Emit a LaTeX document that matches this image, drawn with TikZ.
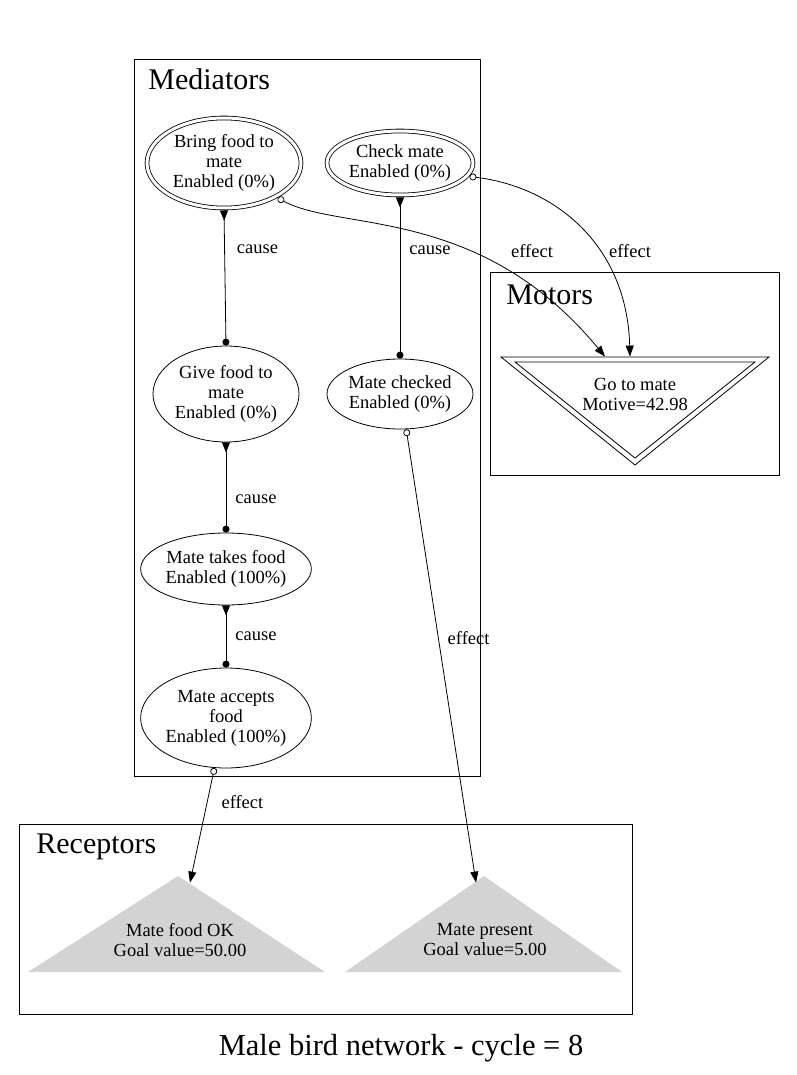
\documentclass[tikz,border=0pt]{standalone}
\usepackage{fontspec}
\setmainfont{Liberation Serif}
\usepackage{xcolor}
\usepackage{tikz}
\usetikzlibrary{shapes.geometric,arrows.meta,positioning,calc}
\definecolor{recgray}{HTML}{D3D3D3}

\begin{document}
\begin{tikzpicture}[
  x=1pt, y=-1pt,
  line width=0.8pt,
  txt/.style={font=\fontsize{18.5}{20}\selectfont, align=center},
  mediator/.style={ellipse, draw, txt, inner sep=0pt},
  dblnode/.style={mediator, double, double distance=3pt, outer sep=2.5pt},
  cluster/.style={draw, line width=0.8pt},
  clabel/.style={anchor=base west, font=\fontsize{30}{32}\selectfont, inner sep=0pt},
  elabel/.style={font=\fontsize{18.5}{20}\selectfont, inner sep=1pt},
  cause/.style={{Triangle[reversed,length=10pt,width=8pt]}-{Circle[length=7pt]}},
  effect/.style={{Circle[open,length=7pt]}-{Triangle[length=11pt,width=8pt]}}
]
\useasboundingbox (0,0) rectangle (796,1075);

% clusters
\draw[cluster] (134,59) rectangle (480,776);
\node[clabel] (medlabel) at (148,90) {Mediators};
\draw[cluster] (490,272) rectangle (779,475);
\node[clabel] (motlabel) at (506,304) {Motors};
\draw[cluster] (19,824) rectangle (632,1014);
\node[clabel] (reclabel) at (36,853) {Receptors};

% mediators
\node[dblnode, minimum width=154pt, minimum height=90pt] (bringfood) at (224,163) {Bring food to\\mate\\Enabled (0\%)};
\node[dblnode, minimum width=146pt, minimum height=64pt] (checkmate) at (400,163) {Check mate\\Enabled (0\%)};
\node[mediator, minimum width=146pt, minimum height=96pt] (givefood) at (226,394) {Give food to\\mate\\Enabled (0\%)};
\node[mediator, minimum width=138pt, minimum height=70pt] (matechecked) at (400,394) {Mate checked\\Enabled (0\%)};
\node[mediator, minimum width=154pt, minimum height=72pt] (takesfood) at (226,569) {Mate takes food\\Enabled (100\%)};
\node[mediator, minimum width=162pt, minimum height=100pt] (acceptsfood) at (226,718) {Mate accepts\\food\\Enabled (100\%)};

% motor
\draw (501,357) -- (769,357) -- (635,465) -- cycle;
\draw (515,362) -- (755,362) -- (635,458) -- cycle;
\node[txt, minimum height=76pt] (gotomate) at (635,395) {Go to mate\\Motive=42.98};

% receptors
\fill[recgray] (178,876) -- (325,972) -- (28,972) -- cycle;
\fill[recgray] (484,876) -- (622,972) -- (345,972) -- cycle;
\node[txt, minimum height=114pt] (foodok) at (180,940) {Mate food OK\\Goal value=50.00};
\node[txt, minimum height=114pt] (matepresent) at (485,940) {Mate present\\Goal value=5.00};

% links
\draw[cause] (bringfood.south) -- node[elabel, pos=0.29, right=11pt] {cause} (givefood.north);
\draw[cause] (checkmate.south) -- node[elabel, pos=0.33, right=8pt] {cause} (matechecked.north);
\draw[cause] (givefood.south) -- node[elabel, pos=0.63, right=8pt] {cause} (takesfood.north);
\draw[cause] (takesfood.south) -- node[elabel, pos=0.49, right=8pt] {cause} (acceptsfood.north);

\draw[effect] (bringfood.-33) .. controls (340,232) and (480,205) .. ([xshift=-30pt]gotomate.north);
\node[elabel] (bringlabel) at (532,251) {effect};
\draw[effect] (checkmate.-11) .. controls (555,187) and (627,245) .. ([xshift=-5pt]gotomate.north);
\node[elabel] (checklabel) at (630,251) {effect};
\draw[effect] (matechecked.-80) -- node[elabel, pos=0.46, right=8pt] {effect} ([xshift=-9pt]matepresent.north);
\draw[effect] (acceptsfood.-103) -- node[elabel, pos=0.3, right=13pt] {effect} ([xshift=10pt]foodok.north);

\node[font=\fontsize{30.5}{32}\selectfont, anchor=base] (title) at (401,1055) {Male bird network - cycle = 8};
\end{tikzpicture}
\end{document}
